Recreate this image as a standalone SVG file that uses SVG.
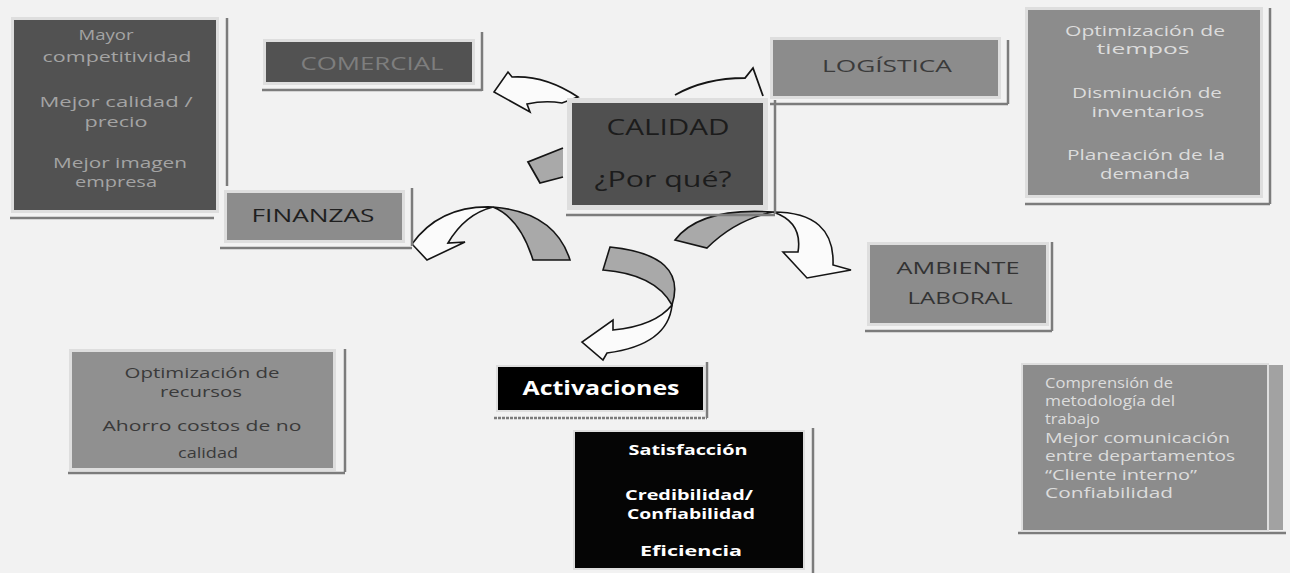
<svg xmlns="http://www.w3.org/2000/svg" width="1290" height="573" viewBox="0 0 1290 573">
<defs>
<style>
.bg{fill:#f2f2f2}
.frame{fill:none;stroke:#dedede;stroke-width:6}
.sh{fill:none;stroke:#7c7c7c;stroke-width:2.5}
.dark{fill:#525252}
.mid{fill:#8c8c8c}
.blk{fill:#050505}
.aw{fill:#fbfbfb;stroke:#151515;stroke-width:1.6;stroke-linejoin:miter}
.ag{fill:#a9a9a9;stroke:#151515;stroke-width:1.6}
.ln{fill:none;stroke:#151515;stroke-width:1.8}
text{font-family:"Open Sans","DejaVu Sans",sans-serif;text-anchor:middle}
.t14{font-size:14px}
.lt{fill:#a4a4a4}
.wt{fill:#dcdcdc}
.dk{fill:#303030}
.wb{fill:#ffffff;font-weight:bold}
</style>
</defs>
<rect class="bg" x="0" y="0" width="1290" height="573"/>

<g id="connectors">
  <path class="aw" d="M578,97 Q545,75 512,77 L508,72 L494,92 L530,112 L527,104 Q545,100 562,103 Z"/>
  <path class="ln" d="M675,95 Q705,78 745,78 L753,68 L763,96"/>
  <path class="ag" d="M563,148 L528,162 L540,183 L563,177 Z" style="stroke:none"/>
  <path class="ln" d="M563,148 L528,162 L540,183 L563,177"/>
  <path class="ag" d="M493,207 Q555,212 570,260 L533,260 Q520,218 493,207 Z"/>
  <path class="aw" d="M493,207 Q440,205 412,244 L427,260 L465,242 L448,243 Q465,214 493,207 Z"/>
  <path class="ag" d="M675,240 Q700,207 773,212 Q735,220 707,248 Z"/>
  <path class="aw" d="M773,212 Q835,212 833,265 L851,270 L807,278 L783,252 L798,252 Q803,222 773,212 Z"/>
  <path class="ag" d="M610,247 Q688,255 672,305 Q655,274 603,270 Z"/>
  <path class="aw" d="M672,305 Q668,345 607,353 L603,360 L582,342 L613,320 L613,330 Q655,326 672,305 Z"/>
</g>

<g id="n-competitividad">
  <line class="sh" x1="227" y1="18" x2="227" y2="186"/>
  <line class="sh" x1="10" y1="218" x2="214" y2="218"/>
  <rect class="frame" x="14" y="20" width="202" height="190"/>
  <rect class="dark" x="14" y="20" width="202" height="190"/>
  <g class="t14 lt">
    <text x="106" y="40" textLength="55" lengthAdjust="spacingAndGlyphs">Mayor</text>
    <text x="117" y="62" textLength="149" lengthAdjust="spacingAndGlyphs">competitividad</text>
    <text x="116" y="107" textLength="153" lengthAdjust="spacingAndGlyphs">Mejor calidad /</text>
    <text x="116" y="127" textLength="63" lengthAdjust="spacingAndGlyphs">precio</text>
    <text x="120" y="168" textLength="134" lengthAdjust="spacingAndGlyphs">Mejor imagen</text>
    <text x="116" y="187" textLength="82" lengthAdjust="spacingAndGlyphs">empresa</text>
  </g>
</g>

<g id="n-comercial">
  <line class="sh" x1="482" y1="32" x2="482" y2="91"/>
  <line class="sh" x1="262" y1="90" x2="482" y2="90"/>
  <rect class="frame" x="266" y="42" width="206" height="40"/>
  <rect class="dark" x="266" y="42" width="206" height="40"/>
  <text x="372" y="70" style="font-size:18px;fill:#7e7e7e" textLength="143" lengthAdjust="spacingAndGlyphs">COMERCIAL</text>
</g>

<g id="n-calidad">
  <line class="sh" x1="775" y1="100" x2="775" y2="214"/>
  <line class="sh" x1="566" y1="215" x2="775" y2="215"/>
  <rect class="frame" x="572" y="103" width="191" height="102" style="stroke-width:10"/>
  <rect class="dark" x="572" y="103" width="191" height="102" style="fill:#505050"/>
  <text x="668" y="135" style="font-size:21px;fill:#1c1c1c" textLength="123" lengthAdjust="spacingAndGlyphs">CALIDAD</text>
  <text x="663" y="187" style="font-size:21px;fill:#1c1c1c" textLength="137" lengthAdjust="spacingAndGlyphs">¿Por qué?</text>
</g>

<g id="n-logistica">
  <line class="sh" x1="1008" y1="40" x2="1008" y2="104"/>
  <line class="sh" x1="770" y1="104" x2="1008" y2="104"/>
  <rect class="frame" x="773" y="40" width="225" height="56"/>
  <rect class="mid" x="773" y="40" width="225" height="56"/>
  <text x="887" y="72" style="font-size:17px;fill:#3b3b3b" textLength="130" lengthAdjust="spacingAndGlyphs">LOGÍSTICA</text>
</g>

<g id="n-tiempos">
  <line class="sh" x1="1270" y1="8" x2="1270" y2="204"/>
  <line class="sh" x1="1025" y1="204" x2="1270" y2="204"/>
  <rect class="frame" x="1028" y="10" width="232" height="185"/>
  <rect class="mid" x="1028" y="10" width="232" height="185"/>
  <g class="t14 wt">
    <text x="1145" y="36" textLength="160" lengthAdjust="spacingAndGlyphs">Optimización de</text>
    <text x="1143" y="54" textLength="93" lengthAdjust="spacingAndGlyphs">tiempos</text>
    <text x="1147" y="98" textLength="150" lengthAdjust="spacingAndGlyphs">Disminución de</text>
    <text x="1148" y="117" textLength="113" lengthAdjust="spacingAndGlyphs">inventarios</text>
    <text x="1146" y="160" textLength="158" lengthAdjust="spacingAndGlyphs">Planeación de la</text>
    <text x="1145" y="179" textLength="90" lengthAdjust="spacingAndGlyphs">demanda</text>
  </g>
</g>

<g id="n-finanzas">
  <line class="sh" x1="412" y1="188" x2="412" y2="246"/>
  <line class="sh" x1="220" y1="248" x2="412" y2="248"/>
  <rect class="frame" x="227" y="193" width="175" height="47"/>
  <rect class="mid" x="227" y="193" width="175" height="47"/>
  <text x="313" y="222" style="font-size:19px;fill:#1f1f1f" textLength="123" lengthAdjust="spacingAndGlyphs">FINANZAS</text>
</g>

<g id="n-ambiente">
  <line class="sh" x1="1052" y1="242" x2="1052" y2="331"/>
  <line class="sh" x1="865" y1="331" x2="1052" y2="331"/>
  <rect class="frame" x="870" y="245" width="176" height="78"/>
  <rect class="mid" x="870" y="245" width="176" height="78"/>
  <text x="958" y="274" style="font-size:17px;fill:#333" textLength="123" lengthAdjust="spacingAndGlyphs">AMBIENTE</text>
  <text x="960" y="304" style="font-size:17px;fill:#333" textLength="105" lengthAdjust="spacingAndGlyphs">LABORAL</text>
</g>

<g id="n-recursos">
  <line class="sh" x1="345" y1="349" x2="345" y2="472"/>
  <line class="sh" x1="68" y1="473" x2="345" y2="473"/>
  <rect class="frame" x="72" y="352" width="261" height="116"/>
  <rect class="mid" x="72" y="352" width="261" height="116" style="fill:#909090"/>
  <g class="t14" style="fill:#3a3a3a">
    <text x="202" y="378" textLength="155" lengthAdjust="spacingAndGlyphs">Optimización de</text>
    <text x="201" y="397" textLength="82" lengthAdjust="spacingAndGlyphs">recursos</text>
    <text x="202" y="431" textLength="199" lengthAdjust="spacingAndGlyphs">Ahorro costos de no</text>
    <text x="208" y="458" textLength="60" lengthAdjust="spacingAndGlyphs">calidad</text>
  </g>
</g>

<g id="n-activaciones">
  <line class="sh" x1="707" y1="362" x2="707" y2="418"/>
  <line class="sh" x1="494" y1="418" x2="707" y2="418" style="stroke-dasharray:3 1"/>
  <rect class="frame" x="498" y="367" width="205" height="43" style="stroke-width:4"/>
  <rect class="blk" x="498" y="367" width="205" height="43" style="fill:#000"/>
  <text class="wb" x="601" y="395" style="font-size:19px" textLength="157" lengthAdjust="spacingAndGlyphs">Activaciones</text>
</g>

<g id="n-satisfaccion">
  <line class="sh" x1="813" y1="428" x2="813" y2="573"/>
  <rect class="frame" x="575" y="432" width="228" height="136" style="stroke-width:4"/>
  <rect class="blk" x="575" y="432" width="228" height="136"/>
  <g style="font-size:15px">
    <text class="wb" x="688" y="455" textLength="119" lengthAdjust="spacingAndGlyphs">Satisfacción</text>
    <text class="wb" x="689" y="500" textLength="128" lengthAdjust="spacingAndGlyphs">Credibilidad/</text>
    <text class="wb" x="691" y="519" textLength="128" lengthAdjust="spacingAndGlyphs">Confiabilidad</text>
    <text class="wb" x="691" y="556" textLength="102" lengthAdjust="spacingAndGlyphs">Eficiencia</text>
  </g>
</g>

<g id="n-comunicacion">
  <line class="sh" x1="1018" y1="533" x2="1286" y2="533"/>
  <rect class="frame" x="1023" y="365" width="244" height="165" style="stroke-width:4"/>
  <rect class="mid" x="1023" y="365" width="244" height="165"/>
  <rect x="1269" y="365" width="14" height="165" style="fill:#a2a2a2"/>
  <g class="t14 wt">
    <text x="1045" y="388" style="text-anchor:start" textLength="128" lengthAdjust="spacingAndGlyphs">Comprensión de</text>
    <text x="1045" y="406" style="text-anchor:start" textLength="130" lengthAdjust="spacingAndGlyphs">metodología del</text>
    <text x="1045" y="424" style="text-anchor:start" textLength="55" lengthAdjust="spacingAndGlyphs">trabajo</text>
    <text x="1045" y="443" style="text-anchor:start" textLength="185" lengthAdjust="spacingAndGlyphs">Mejor comunicación</text>
    <text x="1045" y="461" style="text-anchor:start" textLength="190" lengthAdjust="spacingAndGlyphs">entre departamentos</text>
    <text x="1045" y="480" style="text-anchor:start" textLength="152" lengthAdjust="spacingAndGlyphs">“Cliente interno”</text>
    <text x="1045" y="498" style="text-anchor:start" textLength="128" lengthAdjust="spacingAndGlyphs">Confiabilidad</text>
  </g>
</g>
</svg>
